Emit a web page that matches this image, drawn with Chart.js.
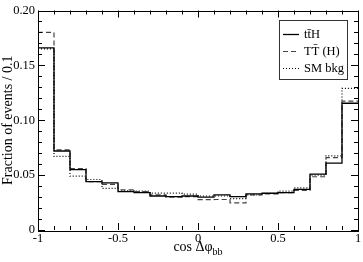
<!DOCTYPE html>
<html>
<head>
<meta charset="utf-8">
<script src="https://cdn.jsdelivr.net/npm/chart.js@4.4.1/dist/chart.umd.min.js"></script>
<style>
  html, body { margin: 0; padding: 0; background: #fff; }
  #wrap { width: 363px; height: 262px; position: relative; }
</style>
</head>
<body>
<div id="wrap"><canvas id="histChart"></canvas></div>
<script>
// bin edges of cos(delta phi_bb), bin width 0.1
const binEdges = [-1, -0.9, -0.8, -0.7, -0.6, -0.5, -0.4, -0.3, -0.2, -0.1, 0,
                  0.1, 0.2, 0.3, 0.4, 0.5, 0.6, 0.7, 0.8, 0.9, 1];

// fraction of events per bin
const ttH   = [0.166, 0.072, 0.055, 0.044, 0.043, 0.035, 0.034, 0.031, 0.0305, 0.031,
               0.030, 0.032, 0.0305, 0.033, 0.0335, 0.034, 0.037, 0.051, 0.061, 0.1155];
const ttPrH = [0.180, 0.073, 0.056, 0.044, 0.0415, 0.0365, 0.035, 0.032, 0.030, 0.0305,
               0.0277, 0.0278, 0.0247, 0.032, 0.033, 0.034, 0.036, 0.0485, 0.066, 0.1175];
const smBkg = [0.165, 0.067, 0.049, 0.046, 0.038, 0.0357, 0.0354, 0.0336, 0.0336, 0.0327,
               0.031, 0.031, 0.0285, 0.032, 0.0335, 0.0355, 0.0384, 0.050, 0.0676, 0.129];

const xTickLabels = ['-1', '-0.5', '0', '0.5', '1'];
const yTickLabels = ['0', '0.05', '0.10', '0.15', '0.20'];

const seriesNames = ['tt\u0304H', 'TT\u0304 (H)', 'SM bkg'];
const FONT = '"Liberation Serif", "DejaVu Serif", serif';

// histogram as step line: one point per left edge, last value repeated at x = 1
function toSteps(values) {
    return binEdges.map((e, i) => ({ x: e, y: values[Math.min(i, values.length - 1)] }));
}

function isMultiple(v, step) {
    return Math.abs(v / step - Math.round(v / step)) < 1e-6;
}

// frame, inward ticks, titles and legend
const decorPlugin = {
    id: 'decor',
    afterDraw(chart) {
        const ctx = chart.ctx;
        const a = chart.chartArea;
        const xs = chart.scales.x, ys = chart.scales.y;
        ctx.save();
        ctx.strokeStyle = '#000';
        ctx.lineWidth = 1;
        ctx.strokeRect(Math.round(a.left) + 0.5, Math.round(a.top) + 0.5,
                       Math.round(a.right - a.left), Math.round(a.bottom - a.top));

        ctx.beginPath();
        xs.ticks.forEach(t => {
            const px = Math.round(xs.getPixelForValue(t.value)) + 0.5;
            const len = isMultiple(t.value, 0.5) ? 7 : 4;
            ctx.moveTo(px, a.bottom); ctx.lineTo(px, a.bottom - len);
            ctx.moveTo(px, a.top); ctx.lineTo(px, a.top + len);
        });
        ys.ticks.forEach(t => {
            const py = Math.round(ys.getPixelForValue(t.value)) + 0.5;
            const len = isMultiple(t.value, 0.05) ? 7 : 4;
            ctx.moveTo(a.left, py); ctx.lineTo(a.left + len, py);
            ctx.moveTo(a.right, py); ctx.lineTo(a.right - len, py);
        });
        ctx.stroke();

        // y title
        ctx.fillStyle = '#000';
        ctx.font = '14px ' + FONT;
        ctx.textAlign = 'center';
        ctx.textBaseline = 'middle';
        ctx.save();
        ctx.translate(8, (a.top + a.bottom) / 2);
        ctx.rotate(-Math.PI / 2);
        ctx.fillText('Fraction of events / 0.1', 0, 0);
        ctx.restore();

        // x title with subscript
        const main = 'cos \u0394\u03c6', sub = 'bb';
        ctx.font = '14px ' + FONT;
        const wMain = ctx.measureText(main).width;
        ctx.font = '10px ' + FONT;
        const wSub = ctx.measureText(sub).width;
        const x0 = (a.left + a.right) / 2 - (wMain + wSub) / 2;
        ctx.textAlign = 'left';
        ctx.textBaseline = 'alphabetic';
        ctx.font = '14px ' + FONT;
        ctx.fillText(main, x0, 251);
        ctx.font = '10px ' + FONT;
        ctx.fillText(sub, x0 + wMain, 255);

        // legend box
        const lx = 279, ly = 20, lw = 68, lh = 59;
        ctx.fillStyle = '#fff';
        ctx.fillRect(lx, ly, lw, lh);
        ctx.strokeStyle = '#333';
        ctx.strokeRect(lx + 0.5, ly + 0.5, lw, lh);
        chart.data.datasets.forEach((ds, i) => {
            const y = ly + 14 + i * 17 + 0.5;
            ctx.beginPath();
            ctx.strokeStyle = ds.borderColor;
            ctx.lineWidth = ds.borderWidth;
            ctx.setLineDash(ds.borderDash || []);
            ctx.moveTo(lx + 4, y); ctx.lineTo(lx + 20, y);
            ctx.stroke();
            ctx.setLineDash([]);
            ctx.fillStyle = '#000';
            ctx.font = '12.5px ' + FONT;
            ctx.textBaseline = 'middle';
            ctx.fillText(seriesNames[i], lx + 25, y);
        });
        ctx.restore();
    }
};

const chart = new Chart(document.getElementById('histChart'), {
    type: 'line',
    data: {
        datasets: [
            {
                label: seriesNames[0],
                data: toSteps(ttH),
                borderColor: '#000',
                borderWidth: 1.3,
                stepped: 'before',
                pointRadius: 0,
                fill: false
            },
            {
                label: seriesNames[1],
                data: toSteps(ttPrH),
                borderColor: '#444',
                borderWidth: 1.2,
                borderDash: [5, 3],
                stepped: 'before',
                pointRadius: 0,
                fill: false
            },
            {
                label: seriesNames[2],
                data: toSteps(smBkg),
                borderColor: '#000',
                borderWidth: 1.2,
                borderDash: [1, 2],
                stepped: 'before',
                pointRadius: 0,
                fill: false
            }
        ]
    },
    options: {
        responsive: true,
        maintainAspectRatio: false,
        animation: false,
        layout: { padding: { top: 5, right: 5, left: 0, bottom: 0 } },
        plugins: {
            legend: { display: false },
            tooltip: { enabled: false }
        },
        scales: {
            x: {
                type: 'linear',
                min: -1,
                max: 1,
                border: { display: false },
                grid: { drawOnChartArea: false, drawTicks: false },
                afterFit: function(scale) { scale.height = 32; },
                ticks: {
                    stepSize: 0.1,
                    autoSkip: false,
                    maxRotation: 0,
                    padding: 1,
                    color: '#000',
                    font: { family: FONT, size: 12.5 },
                    callback: function(v) {
                        if (!isMultiple(v, 0.5)) return '';
                        return xTickLabels[Math.round((v + 1) / 0.5)];
                    }
                }
            },
            y: {
                min: 0,
                max: 0.2,
                border: { display: false },
                grid: { drawOnChartArea: false, drawTicks: false },
                afterFit: function(scale) { scale.width = 38; },
                ticks: {
                    stepSize: 0.01,
                    autoSkip: false,
                    padding: 3,
                    color: '#000',
                    font: { family: FONT, size: 12.5 },
                    callback: function(v) {
                        if (!isMultiple(v, 0.05)) return '';
                        return yTickLabels[Math.round(v / 0.05)];
                    }
                }
            }
        }
    },
    plugins: [decorPlugin]
});
</script>
</body>
</html>
